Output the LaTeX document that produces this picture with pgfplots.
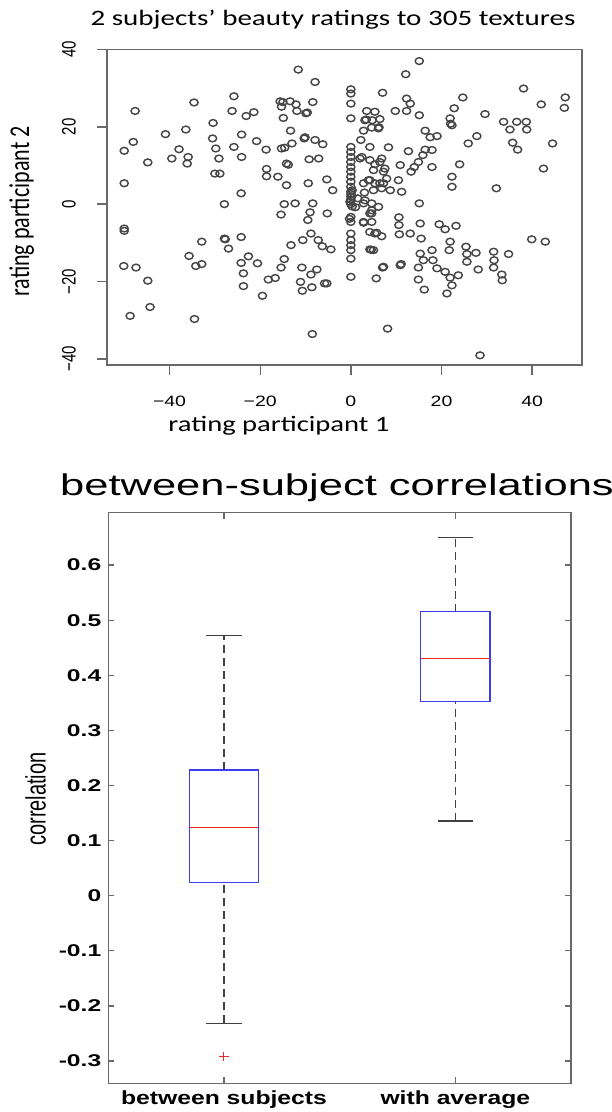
\documentclass[border=0pt]{standalone}
\usepackage{pgfplots}
\pgfplotsset{compat=1.18}
\usepackage{graphicx}
\usepackage{fontspec}
\setmainfont{Liberation Sans}
\newfontfamily\calibri{Carlito}

\definecolor{boxblue}{RGB}{60,60,240}
\definecolor{medred}{RGB}{235,40,40}
\definecolor{framegray}{RGB}{105,105,105}
\definecolor{dotgray}{RGB}{70,70,70}

% the source figure is stretched sideways, so the text is too
\newcommand{\sx}[1]{\scalebox{1.3}[1]{#1}}
\newcommand{\sy}[1]{\scalebox{1}[1.3]{#1}}
\newcommand{\bx}[1]{\scalebox{1.45}[1]{#1}}

\begin{document}
\begin{tikzpicture}
\useasboundingbox (0,0) rectangle (305.5pt,-556pt);

% ---------- top: scatter of the two raters ----------
\begin{axis}[
    at={(53.5pt,-24.75pt)}, anchor=north west,
    scale only axis, width=237.5pt, height=157.75pt,
    xmin=-53.8, xmax=51.0, ymin=-41.6, ymax=40.0,
    xtick={-40,-20,0,20,40}, ytick={-40,-20,0,20,40},
    xticklabels={\sx{−40},\sx{−20},\sx{0},\sx{20},\sx{40}},
    yticklabels={\sy{−40},\sy{−20},\sy{0},\sy{20},\sy{40}},
    xtick pos=left, ytick pos=left,
    tick align=outside, major tick length=5pt,
    axis line style={framegray, line width=0.7pt},
    tick style={framegray, line width=0.7pt},
    ticklabel style={font=\fontsize{7.5}{9}\selectfont},
    yticklabel style={rotate=90, anchor=south},
    xticklabel shift=7pt, yticklabel shift=7pt,
]
\addplot[only marks, mark=o, mark size=1.7pt,
    mark options={xscale=1.2, draw=dotgray, line width=0.72pt}] table {
x y
-11.6 34.8
-7.9 31.6
-47.6 24.1
-34.6 26.3
-25.8 27.9
-26.2 24.1
-23.1 22.8
-21.4 23.8
-15.6 26.6
-13.4 26.6
-12.1 25.8
-15.3 25.2
-11.9 24.1
-9.9 23.5
-8.4 26.4
-14.9 22.3
-30.4 21.0
-40.9 18.1
-36.4 19.3
-48.0 16.1
-50.0 13.8
-44.8 10.8
-37.9 14.2
-39.5 11.8
-35.9 12.2
-36.1 10.5
-30.5 17.0
-29.8 14.4
-29.1 11.8
-24.1 18.0
-25.8 14.8
-24.1 12.2
-20.8 16.3
-18.7 14.1
-15.3 14.4
-13.3 19.0
-13.0 15.7
-10.1 17.3
-7.9 16.6
-6.2 15.5
-14.2 10.5
-9.2 11.6
-7.1 11.8
-30.0 7.9
-28.9 7.9
-18.6 9.1
-18.6 7.2
-16.1 7.1
-14.2 4.9
-9.4 5.4
-5.3 6.4
-4.0 3.6
-50.0 5.4
-24.2 2.8
-27.9 0.0
-14.7 0.0
-12.3 0.2
-8.4 0.2
-15.4 -2.7
-9.0 -2.1
-9.5 -4.1
-5.2 -2.4
-50.0 -6.3
-50.0 -6.9
-32.9 -9.7
-27.9 -8.9
-27.0 -11.5
-24.2 -8.5
-35.7 -13.4
-34.2 -16.0
-32.9 -15.5
-50.1 -16.0
-47.4 -16.4
-44.8 -19.8
-44.3 -26.6
-48.7 -28.9
-34.5 -29.7
-24.2 -15.2
-22.6 -13.5
-20.6 -15.3
-23.7 -17.9
-23.7 -21.2
-19.5 -23.7
-18.2 -19.5
-16.7 -19.1
-15.4 -16.4
-14.7 -14.2
-13.2 -10.6
-10.6 -9.3
-8.8 -7.6
-7.2 -9.3
-6.3 -10.9
-4.4 -11.7
-10.8 -16.4
-8.8 -18.2
-7.5 -16.9
-11.1 -20.1
-10.7 -22.4
-8.6 -21.5
-5.8 -20.5
-5.3 -20.5
-8.5 -33.6
15.1 37.0
12.1 33.6
7.0 28.8
12.3 27.3
13.1 26.0
9.8 24.1
12.3 24.1
15.1 23.0
3.5 24.1
5.3 23.9
3.1 21.7
4.7 21.7
6.4 22.0
6.1 19.6
4.6 19.8
2.8 19.0
2.2 16.6
4.2 14.8
8.3 14.7
16.4 19.0
17.5 17.3
19.0 17.6
12.7 13.7
16.4 14.1
17.9 14.0
15.9 12.7
14.9 10.9
14.0 9.6
13.3 8.4
17.9 9.6
10.9 10.1
6.8 11.8
5.3 10.3
7.2 8.4
5.0 8.8
7.9 6.6
10.5 6.2
6.4 5.4
4.2 6.2
2.8 5.4
5.0 3.6
6.8 4.1
8.7 3.6
11.2 3.2
22.3 7.1
22.3 4.5
24.0 10.3
32.1 4.1
21.9 22.2
22.3 20.4
22.8 24.8
24.7 27.6
25.9 15.7
27.8 17.6
29.6 23.3
33.7 21.3
35.1 19.3
36.6 21.3
38.7 21.3
38.8 19.3
35.7 15.9
36.8 14.1
38.1 29.9
42.0 25.8
44.5 15.7
42.5 9.2
47.3 27.6
47.1 24.9
2.0 11.8
15.1 0.2
2.8 0.2
4.6 -1.6
4.6 -2.4
6.1 -0.7
2.8 -4.8
10.6 -3.4
10.6 -5.4
15.3 -5.0
19.5 -5.2
20.8 -6.5
23.2 -5.6
4.2 -7.2
5.7 -7.4
6.8 -8.3
10.7 -7.8
13.1 -7.6
15.5 -8.9
4.2 -11.7
5.0 -11.9
7.0 -16.4
10.9 -15.8
15.3 -12.8
17.9 -11.9
16.0 -14.5
14.9 -16.4
18.1 -14.5
19.0 -16.6
20.8 -17.5
21.9 -9.7
21.7 -11.9
25.4 -11.0
25.6 -12.9
25.6 -14.9
27.6 -12.6
28.1 -16.9
21.9 -19.0
23.7 -18.4
22.3 -21.0
21.2 -23.1
14.9 -19.5
16.2 -22.1
5.6 -19.2
31.5 -12.3
31.6 -14.5
31.5 -16.4
33.3 -18.2
33.4 -19.7
34.8 -12.9
39.9 -9.1
42.9 -9.7
8.1 -32.2
28.5 -39.1
0 29.7
0 28.6
0 26.0
0 22.2
0 14.8
0 13.5
0 12.2
0 10.9
0 9.6
0 8.4
0 7.1
0 5.8
0 4.5
0 3.2
0 2.6
0 1.9
0 1.2
0 0.0
0 -3.3
0 -4.6
0 -7.6
0 -9.3
0 -10.6
0 -11.9
0 -14.1
0 -18.8
2.4 12.2
4.2 11.4
6.4 10.9
7.5 9.2
3.9 6.2
5.3 5.4
7.2 5.4
3.1 1.0
4.6 0.2
4.2 -2.4
2.8 -4.6
4.6 -4.6
5.3 -7.6
-15.0 26.4
-9.6 23.7
-14.6 14.6
-13.8 10.2
-10.3 17.0
0.3 3.6
0.2 2.0
-0.2 0.6
0.3 -0.6
3.4 21.9
6.2 19.9
22.0 20.8
1.0 -0.8
1.5 1.5
3.0 3.0
-0.3 -3.8
7.2 -16.2
11.1 -15.5
4.5 -11.8
-27.7 -9.1
};
\end{axis}

\node[anchor=base, font=\calibri\fontsize{11}{13}\selectfont] at (166.5pt,-13pt)
    {\scalebox{1.32}[1]{2 subjects’ beauty ratings to 305 textures}};
\node[anchor=base, font=\calibri\fontsize{11}{13}\selectfont] at (139.5pt,-215.85pt)
    {\sx{rating participant 1}};
\node[rotate=90, font=\calibri\fontsize{11}{13}\selectfont] at (10.85pt,-105.75pt)
    {\sy{rating participant 2}};

% ---------- bottom: box plot of the correlations ----------
\begin{axis}[
    at={(54.15pt,-256.35pt)}, anchor=north west,
    scale only axis, width=231.35pt, height=285.3pt,
    xmin=0.5, xmax=2.5, ymin=-0.3405, ymax=0.695,
    xtick={1,2},
    xticklabels={\scalebox{1.3}[1]{\bfseries between subjects},\scalebox{1.3}[1]{\bfseries with average}},
    ytick={-0.3,-0.2,-0.1,0,0.1,0.2,0.3,0.4,0.5,0.6},
    yticklabels={\bx{\bfseries -0.3},\bx{\bfseries -0.2},\bx{\bfseries -0.1},\bx{\bfseries 0},\bx{\bfseries 0.1},\bx{\bfseries 0.2},\bx{\bfseries 0.3},\bx{\bfseries 0.4},\bx{\bfseries 0.5},\bx{\bfseries 0.6}},
    tick align=inside, major tick length=3pt,
    axis line style={framegray, line width=0.65pt},
    tick style={framegray, line width=0.65pt},
    yticklabel style={font=\fontsize{8.5}{10}\selectfont},
    xticklabel style={font=\fontsize{9.5}{11}\selectfont},
]
% between subjects
\addplot[black!75, line width=0.6pt, dash pattern=on 4pt off 2.5pt] coordinates {(1,0.228) (1,0.472)};
\addplot[black!75, line width=0.6pt, dash pattern=on 4pt off 2.5pt] coordinates {(1,-0.2316) (1,0.024)};
\addplot[black!75, line width=0.6pt] coordinates {(0.924,0.472) (1.076,0.472)};
\addplot[black!75, line width=0.6pt] coordinates {(0.924,-0.2316) (1.076,-0.2316)};
\addplot[boxblue, line width=0.7pt] coordinates {(0.85,0.024) (1.15,0.024) (1.15,0.228) (0.85,0.228) (0.85,0.024)};
\addplot[medred, line width=0.6pt] coordinates {(0.85,0.124) (1.15,0.124)};
\addplot[only marks, mark=+, mark size=2.3pt, mark options={medred, line width=0.5pt}] coordinates {(1,-0.292)};
% with average
\addplot[black!75, line width=0.6pt, dash pattern=on 4pt off 2.5pt] coordinates {(2,0.5155) (2,0.650)};
\addplot[black!75, line width=0.6pt, dash pattern=on 4pt off 2.5pt] coordinates {(2,0.1356) (2,0.352)};
\addplot[black!75, line width=0.6pt] coordinates {(1.924,0.650) (2.076,0.650)};
\addplot[black!75, line width=0.6pt] coordinates {(1.924,0.1356) (2.076,0.1356)};
\addplot[boxblue, line width=0.7pt] coordinates {(1.85,0.352) (2.15,0.352) (2.15,0.5155) (1.85,0.5155) (1.85,0.352)};
\addplot[medred, line width=0.6pt] coordinates {(1.85,0.431) (2.15,0.431)};
\end{axis}

\node[anchor=base, font=\fontsize{15}{18}\selectfont] at (168.5pt,-247.5pt)
    {\bx{between-subject correlations}};
\node[rotate=90, font=\fontsize{10}{12}\selectfont] at (17.85pt,-399.5pt)
    {\scalebox{1}[1.4]{correlation}};
\end{tikzpicture}
\end{document}
